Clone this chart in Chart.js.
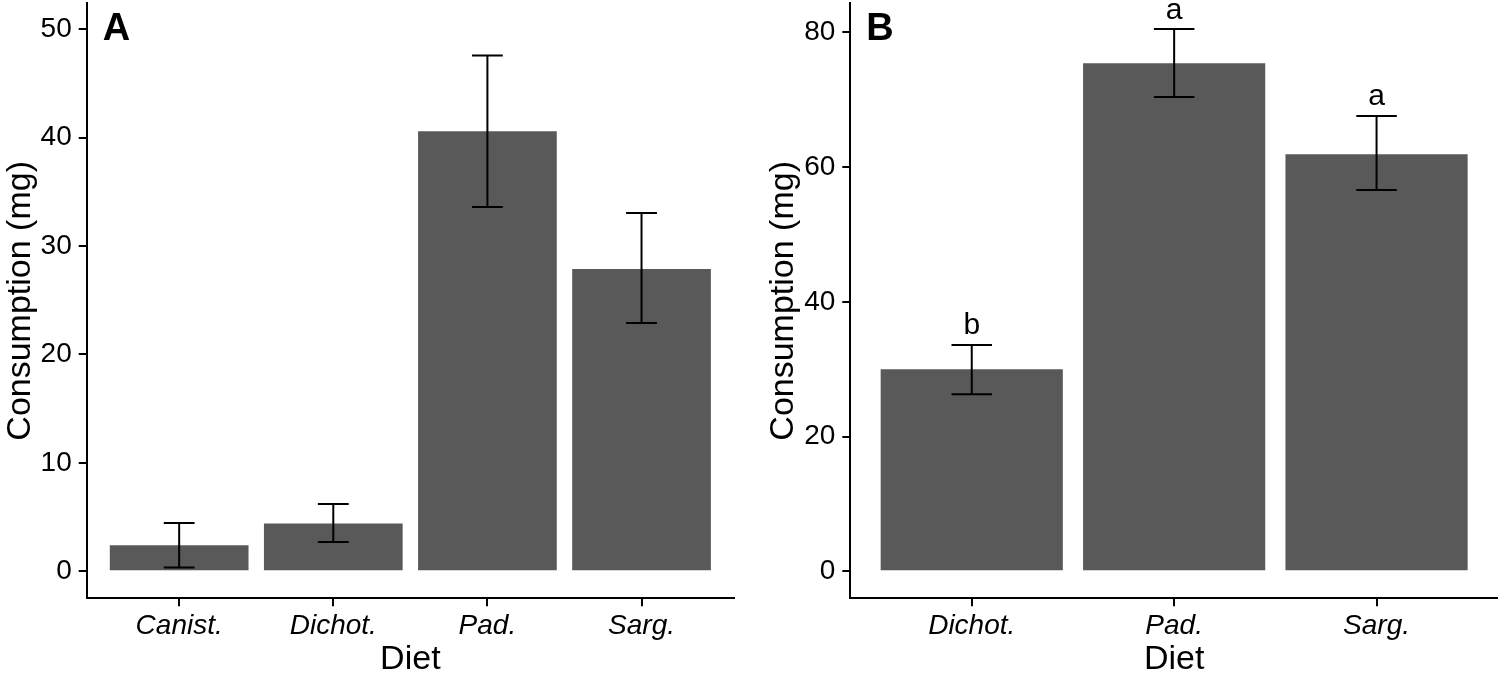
<!DOCTYPE html>
<html>
<head>
<meta charset="utf-8">
<script src="https://cdn.jsdelivr.net/npm/chart.js@4"></script>
<style>
  html, body { margin: 0; padding: 0; background: #fff; }
  body { width: 1498px; height: 675px; position: relative; overflow: hidden; }
  .panel { position: absolute; top: 0; height: 675px; }
  #panelA { left: 0; width: 745px; }
  #panelB { left: 763px; width: 735px; }
</style>
</head>
<body>
<div class="panel" id="panelA"><canvas id="chartA"></canvas></div>
<div class="panel" id="panelB"><canvas id="chartB"></canvas></div>
<script>
// Datos (media y barras de error)
const catsA = ['Canist.', 'Dichot.', 'Pad.', 'Sarg.'];
const meanA = [2.4, 4.4, 40.6, 27.9];
const lowA = [0.35, 2.7, 33.6, 22.9];
const highA = [4.45, 6.2, 47.6, 33.05];
const ticksA = [0, 10, 20, 30, 40, 50];

const catsB = ['Dichot.', 'Pad.', 'Sarg.'];
const meanB = [30.0, 75.4, 61.9];
const lowB = [26.3, 70.4, 56.6];
const highB = [33.6, 80.5, 67.6];
const lettersB = ['b', 'a', 'a'];
const ticksB = [0, 20, 40, 60, 80];

const FONT = "'Liberation Sans', Arial, Helvetica, sans-serif";

// Barras de error, marcas del eje x y letras de significación
const errorBars = {
    id: 'errorBars',
    afterDraw(chart, args, opts) {
        const { ctx, chartArea, scales: { x, y } } = chart;
        ctx.save();
        ctx.strokeStyle = '#000';
        ctx.lineWidth = 2;
        // marcas bajo el eje x
        ctx.beginPath();
        x.ticks.forEach(t => {
            const px = Math.round(x.getPixelForValue(t.value));
            ctx.moveTo(px, chartArea.bottom + 1);
            ctx.lineTo(px, chartArea.bottom + 8);
        });
        ctx.stroke();
        opts.low.forEach((lo, i) => {
            const v = i + 1;
            const px = x.getPixelForValue(v);
            const half = (x.getPixelForValue(v + 0.1) - x.getPixelForValue(v - 0.1)) / 2;
            const yLo = y.getPixelForValue(lo);
            const yHi = y.getPixelForValue(opts.high[i]);
            ctx.beginPath();
            ctx.moveTo(px, yLo); ctx.lineTo(px, yHi);
            ctx.moveTo(px - half, yLo); ctx.lineTo(px + half, yLo);
            ctx.moveTo(px - half, yHi); ctx.lineTo(px + half, yHi);
            ctx.stroke();
            if (opts.letters) {
                ctx.fillStyle = '#000';
                ctx.font = '30px ' + FONT;
                ctx.textAlign = 'center';
                ctx.textBaseline = 'alphabetic';
                ctx.fillText(opts.letters[i], px, yHi - 10.5);
            }
        });
        // letra del panel
        ctx.fillStyle = '#000';
        ctx.font = 'bold 38px ' + FONT;
        ctx.textAlign = 'left';
        ctx.textBaseline = 'alphabetic';
        ctx.fillText(opts.tag, chartArea.left + 16, 40);
        ctx.restore();
    }
};

function makeChart(id, cats, mean, low, high, ticks, yMin, yMax, yWidth, padRight, letters, tag) {
    return new Chart(document.getElementById(id), {
        type: 'bar',
        data: {
            datasets: [{
                data: mean.map((m, i) => ({ x: i + 1, y: m })),
                backgroundColor: '#595959',
                borderWidth: 0,
                barPercentage: 0.9,
                categoryPercentage: 1.0
            }]
        },
        options: {
            responsive: true,
            maintainAspectRatio: false,
            animation: false,
            devicePixelRatio: 1,
            layout: { padding: { top: 3.4, right: padRight, left: 0, bottom: 0 } },
            plugins: {
                legend: { display: false },
                tooltip: { enabled: false },
                errorBars: { low, high, letters, tag }
            },
            scales: {
                x: {
                    type: 'linear',
                    offset: false,
                    min: 0.4,
                    max: cats.length + 0.6,
                    afterBuildTicks: s => { s.ticks = cats.map((c, i) => ({ value: i + 1 })); },
                    afterFit: s => { s.height = 76.7; s.paddingLeft = 0; s.paddingRight = 0; },
                    ticks: {
                        autoSkip: false,
                        maxRotation: 0,
                        padding: 4,
                        color: '#000',
                        font: { family: FONT, size: 28, style: 'italic' },
                        callback: v => cats[Math.round(v) - 1]
                    },
                    grid: { offset: false, drawOnChartArea: false, drawTicks: true, tickLength: 7, color: '#000', lineWidth: 2 },
                    border: { display: true, color: '#000', width: 2 },
                    title: {
                        display: true,
                        text: 'Diet',
                        color: '#000',
                        font: { family: FONT, size: 34, lineHeight: 0.9 },
                        padding: { top: 0, bottom: 0 }
                    }
                },
                y: {
                    min: yMin,
                    max: yMax,
                    afterBuildTicks: s => { s.ticks = ticks.map(v => ({ value: v })); },
                    afterFit: s => { s.width = yWidth; s.paddingTop = 0; s.paddingBottom = 0; },
                    ticks: {
                        padding: 7,
                        color: '#000',
                        font: { family: FONT, size: 28 }
                    },
                    grid: { drawOnChartArea: false, drawTicks: true, tickLength: 8, color: '#000', lineWidth: 2 },
                    border: { display: true, color: '#000', width: 2 },
                    title: {
                        display: true,
                        text: 'Consumption (mg)',
                        color: '#000',
                        font: { family: FONT, size: 34, lineHeight: 1 },
                        padding: { top: 3.5, bottom: 0 }
                    }
                }
            }
        },
        plugins: [errorBars]
    });
}

makeChart('chartA', catsA, meanA, lowA, highA, ticksA, -2.5, 52.4, 86.7, 11, null, 'A');
makeChart('chartB', catsB, meanB, lowB, highB, ticksB, -4.0, 84.3, 87.3, 0, lettersB, 'B');
</script>
</body>
</html>
